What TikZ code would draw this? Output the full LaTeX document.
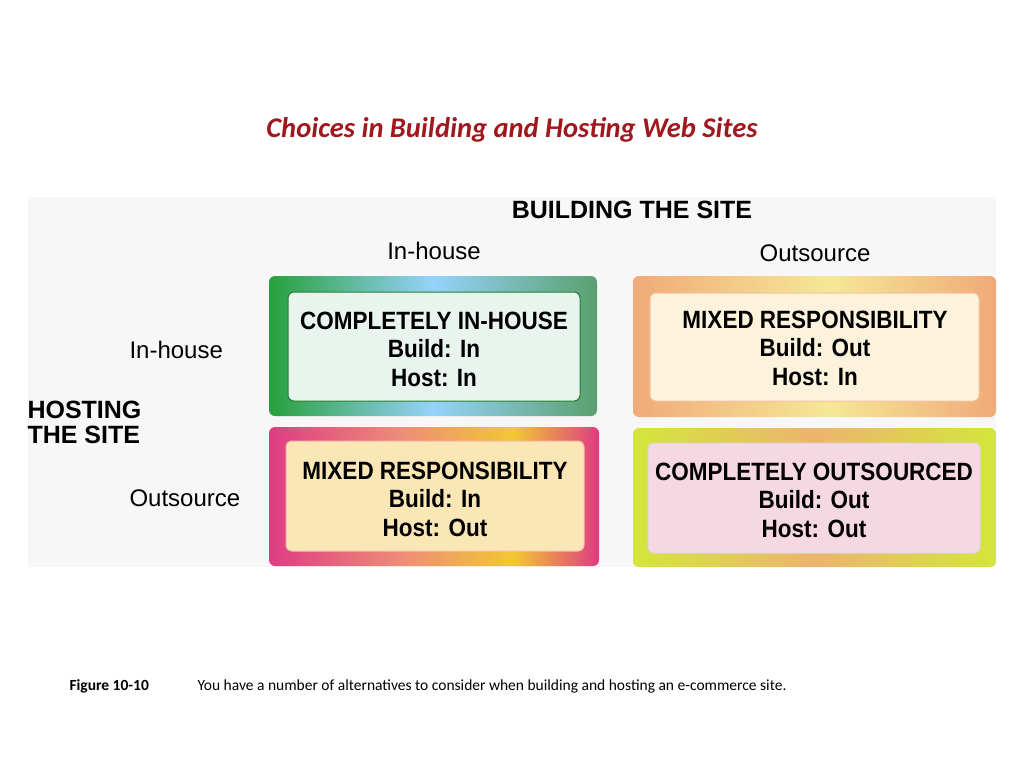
\documentclass[tikz,border=0pt]{standalone}
\usepackage{fontspec}
\setmainfont{Liberation Sans}
\newfontfamily\calib{Carlito}
\definecolor{tred}{RGB}{160,24,30}
\definecolor{ga}{RGB}{40,160,60}\definecolor{gb}{RGB}{150,210,250}\definecolor{gc}{RGB}{90,160,110}
\definecolor{oa}{RGB}{240,170,120}\definecolor{ob}{RGB}{245,232,150}
\definecolor{pa}{RGB}{222,60,130}\definecolor{pb}{RGB}{238,140,120}\definecolor{pc}{RGB}{242,200,50}
\definecolor{ya}{RGB}{212,230,60}\definecolor{yb}{RGB}{236,180,110}
\pgfdeclarehorizontalshading{shG}{100bp}{color(0bp)=(ga);color(25bp)=(ga);color(50bp)=(gb);color(75bp)=(gc);color(100bp)=(gc)}
\pgfdeclarehorizontalshading{shO}{100bp}{color(0bp)=(oa);color(25bp)=(oa);color(52bp)=(ob);color(75bp)=(oa);color(100bp)=(oa)}
\pgfdeclarehorizontalshading{shP}{100bp}{color(0bp)=(pa);color(25bp)=(pa);color(45bp)=(pb);color(62bp)=(pc);color(75bp)=(pa);color(100bp)=(pa)}
\pgfdeclarehorizontalshading{shY}{100bp}{color(0bp)=(ya);color(25bp)=(ya);color(50bp)=(yb);color(75bp)=(ya);color(100bp)=(ya)}
\begin{document}
\begin{tikzpicture}[x=1pt,y=-1pt,
  outer/.style={rounded corners=6pt},
  inner/.style={rounded corners=6pt,line width=1pt},
  btxt/.style={font=\fontsize{25}{28.5}\selectfont\bfseries,align=center,xscale=0.9},
  lab/.style={font=\fontsize{24}{28}\selectfont,anchor=west},
  head/.style={font=\fontsize{25}{25}\selectfont\bfseries,align=left}]
\useasboundingbox (0,0) rectangle (1024,768);
\fill[white] (0,0) rectangle (1024,768);
\fill[gray!6] (28,197) rectangle (996,567);
\node (title) at (512,130) {\calib\fontsize{28.5}{32}\selectfont\bfseries\itshape\color{tred}Choices in Building and Hosting Web Sites};
\node[head] (build) at (632,210) {BUILDING THE SITE};
\node[font=\fontsize{24}{28}\selectfont] (bin) at (434,251) {In-house};
\node[font=\fontsize{24}{28}\selectfont] (bout) at (815,253) {Outsource};
\node[lab] (hin) at (126,350) {In-house};
\node[lab] (hout) at (126,498) {Outsource};
\node[head,anchor=west] (host) at (24,422) {HOSTING\\THE SITE};
% boxes
\shade[outer,shading=shG] (269,276) rectangle (597,416);
\draw[inner,draw=ga!80!black,fill={rgb,255:red,234;green,244;blue,238}] (288,292) rectangle (580,401);
\node[btxt] (a) at (434,349) {COMPLETELY IN-HOUSE\\Build: In\\Host: In};
\shade[outer,shading=shO] (633,276) rectangle (996,417);
\draw[inner,draw=oa!70,fill={rgb,255:red,253;green,243;blue,220}] (650,293) rectangle (979,401);
\node[btxt] (b) at (815,348) {MIXED RESPONSIBILITY\\Build: Out\\Host: In};
\shade[outer,shading=shP] (269,427) rectangle (599,566);
\draw[inner,draw=pb!60,fill={rgb,255:red,251;green,231;blue,181}] (286,441) rectangle (584,551);
\node[btxt] (c) at (435,499) {MIXED RESPONSIBILITY\\Build: In\\Host: Out};
\shade[outer,shading=shY] (633,428) rectangle (996,567);
\draw[inner,draw=gray!30,fill={rgb,255:red,246;green,216;blue,227}] (648,443) rectangle (980,553);
\node[btxt] (d) at (814,500) {COMPLETELY OUTSOURCED\\Build: Out\\Host: Out};
\node[anchor=west,font=\calib\fontsize{15.5}{18}\selectfont\bfseries] (fig) at (66,686) {Figure 10-10};
\node[anchor=west,font=\calib\fontsize{15.5}{18}\selectfont] (cap) at (194,686) {You have a number of alternatives to consider when building and hosting an e-commerce site.};
\end{tikzpicture}
\end{document}
